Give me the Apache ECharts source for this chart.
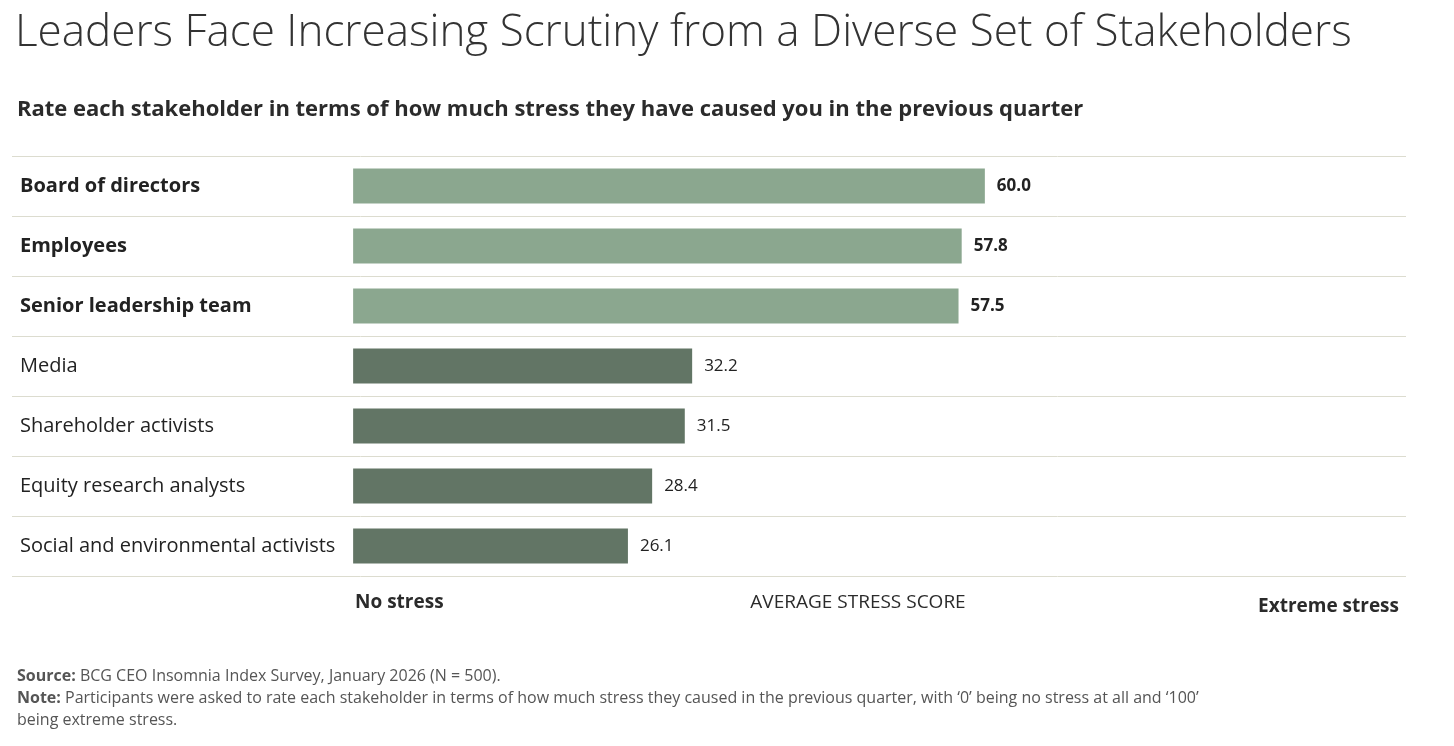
<!DOCTYPE html>
<html>
<head>
<meta charset="utf-8">
<script src="https://cdn.jsdelivr.net/npm/echarts@6/dist/echarts.min.js"></script>
<style>
  html, body { margin: 0; padding: 0; background: #fff; }
  #main { width: 1454px; height: 746px; }
</style>
</head>
<body>
<div id="main"></div>
<script>
var stakeholders = ['Board of directors', 'Employees', 'Senior leadership team', 'Media',
  'Shareholder activists', 'Equity research analysts', 'Social and environmental activists'];
var scores = [60.0, 57.8, 57.5, 32.2, 31.5, 28.4, 26.1];
var highlighted = [true, true, true, false, false, false, false];

var FONT = '"Open Sans", "Noto Sans", sans-serif';
var chart = echarts.init(document.getElementById('main'));

var option = {
  animation: false,
  textStyle: { fontFamily: FONT },
  title: [
    { text: 'Leaders Face Increasing Scrutiny from a Diverse Set of Stakeholders', left: 10, top: 6,
      textStyle: { fontSize: 44, fontWeight: 300, color: '#333', fontFamily: FONT } },
    { text: 'Rate each stakeholder in terms of how much stress they have caused you in the previous quarter', left: 12, top: 94,
      textStyle: { fontSize: 22, fontWeight: 'bold', color: '#2b2b2b', fontFamily: FONT } },
    { text: 'No stress', left: 350, top: 588,
      textStyle: { fontSize: 19, fontWeight: 'bold', color: '#2b2b2b', fontFamily: FONT } },
    { text: 'AVERAGE STRESS SCORE', left: 853, top: 588, textAlign: 'center',
      textStyle: { fontSize: 19, fontWeight: 'normal', color: '#2b2b2b', fontFamily: FONT } },
    { text: 'Extreme stress', right: 50, top: 592,
      textStyle: { fontSize: 19, fontWeight: 'bold', color: '#2b2b2b', fontFamily: FONT } },
    { text: '{b|Source:} BCG CEO Insomnia Index Survey, January 2026 (N = 500).\n{b|Note:} Participants were asked to rate each stakeholder in terms of how much stress they caused in the previous quarter, with \u20180\u2019 being no stress at all and \u2018100\u2019\nbeing extreme stress.',
      left: 12, top: 660,
      textStyle: { fontSize: 16, lineHeight: 22, fontWeight: 'normal', color: '#555', fontFamily: FONT,
        rich: { b: { fontSize: 16, fontWeight: 'bold', color: '#555', fontFamily: FONT } } } }
  ],
  grid: { left: 12, right: 48, top: 156, height: 420, containLabel: false },
  xAxis: {
    type: 'value', min: -32.4, max: 100,
    show: false
  },
  yAxis: {
    type: 'category', data: stakeholders, inverse: true,
    axisLine: { show: false },
    axisTick: { show: false },
    splitLine: { show: true, lineStyle: { color: '#dcdccf', width: 1 } },
    axisLabel: {
      inside: true, margin: 8, fontSize: 20, color: '#222',
      formatter: function (v, i) { return highlighted[i] ? '{b|' + v + '}' : v; },
      rich: { b: { fontSize: 20, fontWeight: 'bold', color: '#222', fontFamily: FONT } }
    }
  },
  series: [{
    type: 'bar',
    barWidth: 35,
    data: scores.map(function (v, i) {
      return { value: v, itemStyle: { color: highlighted[i] ? '#8ba78f' : '#627565' } };
    }),
    label: {
      show: true, position: 'right', distance: 12, fontSize: 17, color: '#222',
      formatter: function (p) {
        var t = p.value.toFixed(1);
        return highlighted[p.dataIndex] ? '{b|' + t + '}' : t;
      },
      rich: { b: { fontSize: 17, fontWeight: 'bold', color: '#222', fontFamily: FONT } }
    }
  }]
};
chart.setOption(option);
</script>
</body>
</html>
